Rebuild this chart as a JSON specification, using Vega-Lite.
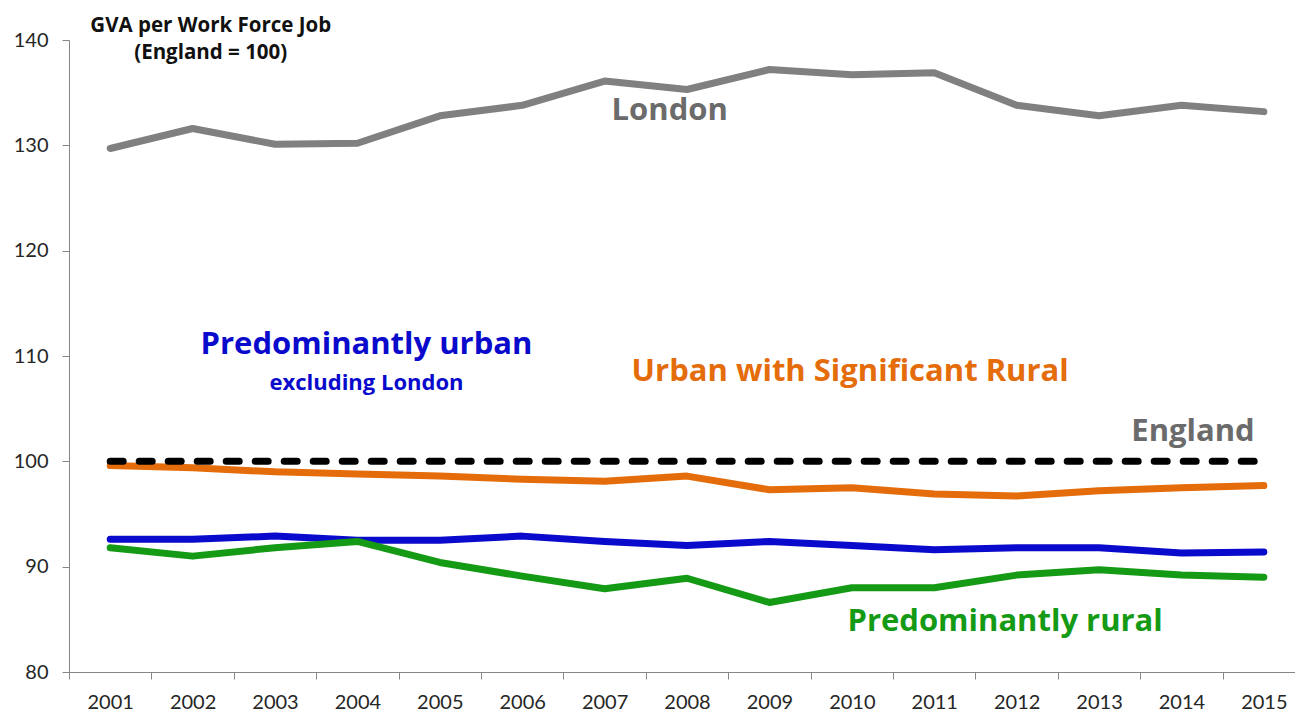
{
  "$schema": "https://vega.github.io/schema/vega-lite/v6.json",
  "width": 1226,
  "height": 632,
  "autosize": {"type": "none"},
  "padding": {"left": 69, "top": 40, "right": 0, "bottom": 39},
  "background": "white",
  "config": {"view": {"stroke": null}, "font": "Lato"},
  "datasets": {
    "series": [
      {"year": 2001, "region": "London", "value": 129.7},
      {"year": 2002, "region": "London", "value": 131.6},
      {"year": 2003, "region": "London", "value": 130.1},
      {"year": 2004, "region": "London", "value": 130.2},
      {"year": 2005, "region": "London", "value": 132.8},
      {"year": 2006, "region": "London", "value": 133.8},
      {"year": 2007, "region": "London", "value": 136.1},
      {"year": 2008, "region": "London", "value": 135.3},
      {"year": 2009, "region": "London", "value": 137.2},
      {"year": 2010, "region": "London", "value": 136.7},
      {"year": 2011, "region": "London", "value": 136.9},
      {"year": 2012, "region": "London", "value": 133.8},
      {"year": 2013, "region": "London", "value": 132.8},
      {"year": 2014, "region": "London", "value": 133.8},
      {"year": 2015, "region": "London", "value": 133.2},
      {"year": 2001, "region": "Urban with Significant Rural", "value": 99.6},
      {"year": 2002, "region": "Urban with Significant Rural", "value": 99.4},
      {"year": 2003, "region": "Urban with Significant Rural", "value": 99.0},
      {"year": 2004, "region": "Urban with Significant Rural", "value": 98.8},
      {"year": 2005, "region": "Urban with Significant Rural", "value": 98.6},
      {"year": 2006, "region": "Urban with Significant Rural", "value": 98.3},
      {"year": 2007, "region": "Urban with Significant Rural", "value": 98.1},
      {"year": 2008, "region": "Urban with Significant Rural", "value": 98.6},
      {"year": 2009, "region": "Urban with Significant Rural", "value": 97.3},
      {"year": 2010, "region": "Urban with Significant Rural", "value": 97.5},
      {"year": 2011, "region": "Urban with Significant Rural", "value": 96.9},
      {"year": 2012, "region": "Urban with Significant Rural", "value": 96.7},
      {"year": 2013, "region": "Urban with Significant Rural", "value": 97.2},
      {"year": 2014, "region": "Urban with Significant Rural", "value": 97.5},
      {"year": 2015, "region": "Urban with Significant Rural", "value": 97.7},
      {"year": 2001, "region": "Predominantly urban", "value": 92.6},
      {"year": 2002, "region": "Predominantly urban", "value": 92.6},
      {"year": 2003, "region": "Predominantly urban", "value": 92.9},
      {"year": 2004, "region": "Predominantly urban", "value": 92.5},
      {"year": 2005, "region": "Predominantly urban", "value": 92.5},
      {"year": 2006, "region": "Predominantly urban", "value": 92.9},
      {"year": 2007, "region": "Predominantly urban", "value": 92.4},
      {"year": 2008, "region": "Predominantly urban", "value": 92.0},
      {"year": 2009, "region": "Predominantly urban", "value": 92.4},
      {"year": 2010, "region": "Predominantly urban", "value": 92.0},
      {"year": 2011, "region": "Predominantly urban", "value": 91.6},
      {"year": 2012, "region": "Predominantly urban", "value": 91.8},
      {"year": 2013, "region": "Predominantly urban", "value": 91.8},
      {"year": 2014, "region": "Predominantly urban", "value": 91.3},
      {"year": 2015, "region": "Predominantly urban", "value": 91.4},
      {"year": 2001, "region": "Predominantly rural", "value": 91.8},
      {"year": 2002, "region": "Predominantly rural", "value": 91.0},
      {"year": 2003, "region": "Predominantly rural", "value": 91.8},
      {"year": 2004, "region": "Predominantly rural", "value": 92.4},
      {"year": 2005, "region": "Predominantly rural", "value": 90.4},
      {"year": 2006, "region": "Predominantly rural", "value": 89.1},
      {"year": 2007, "region": "Predominantly rural", "value": 87.9},
      {"year": 2008, "region": "Predominantly rural", "value": 88.9},
      {"year": 2009, "region": "Predominantly rural", "value": 86.6},
      {"year": 2010, "region": "Predominantly rural", "value": 88.0},
      {"year": 2011, "region": "Predominantly rural", "value": 88.0},
      {"year": 2012, "region": "Predominantly rural", "value": 89.2},
      {"year": 2013, "region": "Predominantly rural", "value": 89.7},
      {"year": 2014, "region": "Predominantly rural", "value": 89.2},
      {"year": 2015, "region": "Predominantly rural", "value": 89.0}
    ],
    "england": [
      {"year": 2001, "value": 100},
      {"year": 2015, "value": 100}
    ],
    "notes": [
      {"label": "GVA per Work Force Job", "x": 2002.22, "y": 141.3, "kind": "title"},
      {"label": "(England = 100)", "x": 2002.22, "y": 138.75, "kind": "title"},
      {"label": "London", "x": 2007.79, "y": 133.3, "kind": "London"},
      {"label": "Predominantly urban", "x": 2004.11, "y": 111.0, "kind": "urban"},
      {"label": "Urban with Significant Rural", "x": 2009.98, "y": 108.45, "kind": "usr"},
      {"label": "England", "x": 2014.14, "y": 102.75, "kind": "England"},
      {"label": "Predominantly rural", "x": 2011.86, "y": 84.7, "kind": "rural"},
      {"label": "excluding London", "x": 2004.11, "y": 107.47, "kind": "urbansub"}
    ]
  },
  "layer": [
    {
      "data": {"name": "series"},
      "mark": {"type": "line", "strokeWidth": 7, "strokeCap": "round", "strokeJoin": "round"},
      "encoding": {
        "x": {
          "field": "year", "type": "quantitative",
          "scale": {"domain": [2000.5, 2015.378], "nice": false, "zero": false},
          "axis": {
            "title": null,
            "values": [2000.5, 2001.5, 2002.5, 2003.5, 2004.5, 2005.5, 2006.5, 2007.5, 2008.5, 2009.5, 2010.5, 2011.5, 2012.5, 2013.5, 2014.5],
            "labelExpr": "format(datum.value + 0.5, 'd')",
            "labelOffset": 41.2,
            "labelBound": false,
            "labelFlush": false,
            "labelOverlap": false,
            "grid": false,
            "tickSize": 7,
            "tickColor": "#868686",
            "domainColor": "#868686",
            "labelFontSize": 20,
            "labelColor": "#262626",
            "labelFont": "Lato",
            "labelPadding": 13
          }
        },
        "y": {
          "field": "value", "type": "quantitative",
          "scale": {"domain": [80, 140], "nice": false, "zero": false},
          "axis": {
            "title": null,
            "values": [80, 90, 100, 110, 120, 130, 140],
            "grid": false,
            "tickSize": 7,
            "tickColor": "#868686",
            "domainColor": "#868686",
            "labelFontSize": 20,
            "labelColor": "#262626",
            "labelFont": "Lato",
            "labelPadding": 14
          }
        },
        "color": {
          "field": "region", "type": "nominal", "legend": null,
          "scale": {
            "domain": ["London", "Urban with Significant Rural", "Predominantly urban", "Predominantly rural"],
            "range": ["#808080", "#E46C0A", "#0A0ACC", "#159A15"]
          }
        }
      }
    },
    {
      "data": {"name": "england"},
      "mark": {"type": "line", "strokeWidth": 7, "strokeCap": "round", "strokeDash": [13, 16], "color": "black"},
      "encoding": {
        "x": {"field": "year", "type": "quantitative"},
        "y": {"field": "value", "type": "quantitative"}
      }
    },
    {
      "data": {"name": "notes"},
      "transform": [{"filter": "datum.kind == 'title'"}],
      "mark": {"type": "text", "font": "Open Sans", "fontSize": 20.5, "fontWeight": "bold", "color": "#111111", "align": "center", "baseline": "middle"},
      "encoding": {"x": {"field": "x", "type": "quantitative"}, "y": {"field": "y", "type": "quantitative"}, "text": {"field": "label"}}
    },
    {
      "data": {"name": "notes"},
      "transform": [{"filter": "datum.kind == 'urbansub'"}],
      "mark": {"type": "text", "font": "Open Sans", "fontSize": 22, "fontWeight": "bold", "color": "#0A0ACC", "align": "center", "baseline": "middle"},
      "encoding": {"x": {"field": "x", "type": "quantitative"}, "y": {"field": "y", "type": "quantitative"}, "text": {"field": "label"}}
    },
    {
      "data": {"name": "notes"},
      "transform": [{"filter": "datum.kind != 'title' && datum.kind != 'urbansub'"}],
      "mark": {"type": "text", "font": "Open Sans", "fontSize": 31, "fontWeight": "bold", "align": "center", "baseline": "middle"},
      "encoding": {
        "x": {"field": "x", "type": "quantitative"},
        "y": {"field": "y", "type": "quantitative"},
        "text": {"field": "label"},
        "color": {
          "field": "kind", "type": "nominal", "legend": null,
          "scale": {
            "domain": ["London", "usr", "urban", "rural", "England"],
            "range": ["#6b6b6b", "#E46C0A", "#0A0ACC", "#159A15", "#6b6b6b"]
          }
        }
      }
    }
  ],
  "resolve": {"scale": {"color": "independent"}}
}
